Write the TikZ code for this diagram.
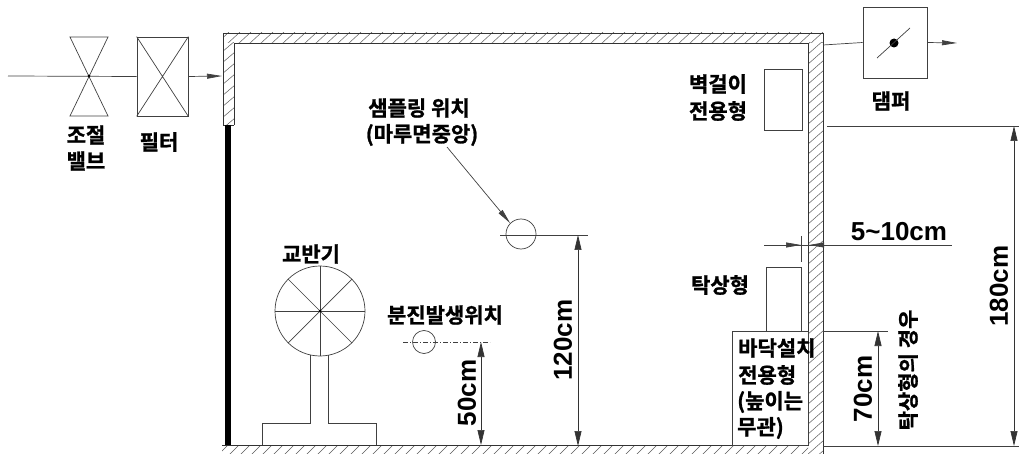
\documentclass[tikz,border=0pt]{standalone}
\usepackage{fontspec}
\setmainfont{Liberation Sans}
\newfontfamily\krfont{Noto Sans CJK KR}[BoldFont={* Bold},BoldFeatures={FakeBold=1.2}]
\usetikzlibrary{arrows.meta}
\tikzset{
  lbl/.style={inner sep=0pt,font=\krfont\bfseries\fontsize{21}{24}\selectfont,align=center},
  dimlbl/.style={inner sep=0pt,font=\bfseries\fontsize{26}{28}\selectfont},
  ln/.style={draw=black!75,line width=0.7pt},
  wall/.style={draw=black!80,line width=0.8pt},
  hatch/.style={draw=black!65,line width=0.5pt},
  dimln/.style={draw=black!80,line width=0.7pt,{Triangle[length=15pt,width=7pt]}-{Triangle[length=15pt,width=7pt]}},
  flow/.style={draw=black!75,line width=0.7pt,-{Triangle[length=15pt,width=5pt]}},
}
\begin{document}
\begin{tikzpicture}[x=1pt,y=-1pt]
\useasboundingbox (0,0) rectangle (1019,454);
% walls
\begin{scope}
\clip (223,33) rectangle (823,43);
\foreach \i in {0,11,...,620} \draw[hatch] (216+\i,44) -- (229+\i,32);
\end{scope}
\begin{scope}
\clip (223,43) rectangle (234,125);
\foreach \i in {30,41,...,130} \draw[hatch] (222,\i+11) -- (235,\i);
\end{scope}
\begin{scope}
\clip (808,43) rectangle (823,454);
\foreach \i in {30,40,...,470} \draw[hatch] (807,\i+15) -- (824,\i);
\end{scope}
\begin{scope}
\clip (222,445) rectangle (808,454);
\foreach \i in {0,11,...,600} \draw[hatch] (218+\i,455) -- (229+\i,444);
\end{scope}
\draw[wall] (223,125) -- (223,33) -- (823,33) -- (823,454);
\draw[wall] (234,125) -- (234,43) -- (808,43) -- (808,445);
\draw[wall] (223,125) -- (234,125);
\draw[wall] (222,445) -- (808,445);
\draw[line width=6pt] (228,125) -- (228,445);
% valve and filter
\coordinate (inlet) at (8,76);
\coordinate (vc) at (89,76);
\draw[ln] (70,37) -- (108,37) -- (70,116) -- (108,116) -- cycle;
\node[ln,minimum width=51pt,minimum height=79pt,inner sep=0pt] (filter) at (162.5,76.5) {};
\draw[ln] (filter.north west) -- (filter.south east) (filter.north east) -- (filter.south west);
\draw[ln] (inlet) -- (filter.west);
\fill (vc) circle (1.5);
\coordinate (wallin) at (222,76);
\draw[flow] (filter.east) -- (wallin);
\node[lbl] (t1) at (86,135) {조절};
\node[lbl] (t2) at (86,161) {밸브};
\node[lbl] (t3) at (159,142) {필터};
% damper
\node[ln,minimum width=64pt,minimum height=71pt,inner sep=0pt] (damper) at (895,42.5) {};
\coordinate (wallout) at (823,45);
\coordinate (dout) at (957,43);
\draw[ln] (wallout) -- (damper.west);
\draw[flow] (damper.east) -- (dout);
\node[circle,fill=black,minimum size=9pt,inner sep=0pt] (ddot) at (894,43) {};
\coordinate (da) at (877,58);
\coordinate (db) at (910,28);
\draw[ln] (da) -- (db);
\node[lbl] (t4) at (891,101) {댐퍼};
% units
\node[ln,minimum width=38pt,minimum height=61pt,inner sep=0pt] (wallunit) at (783,99.5) {};
\node[lbl] (t5) at (718,84) {벽걸이};
\node[lbl] (t6) at (718,111) {전용형};
\node[ln,minimum width=35pt,minimum height=64pt,inner sep=0pt] (deskunit) at (783.5,299) {};
\node[lbl] (t7) at (720,285) {탁상형};
\node[ln,minimum width=76pt,minimum height=114pt,inner sep=0pt] (floorunit) at (770,388) {};
\node[lbl,anchor=west] (t8) at (738,348) {바닥설치};
\node[lbl,anchor=west] (t9) at (738,375) {전용형};
\node[lbl,anchor=west] (t10) at (737,402) {(높이는};
\node[lbl,anchor=west] (t11) at (737,428) {무관)};
% dims right
\coordinate (h180a) at (827,126); \coordinate (h180b) at (1019,126);
\draw[ln] (h180a) -- (h180b);
\coordinate (base1) at (823,446); \coordinate (base2) at (1019,446);
\draw[ln] (base1) -- (base2);
\coordinate (d180a) at (1014,126); \coordinate (d180b) at (1014,446);
\draw[dimln] (d180a) -- (d180b);
\node[dimlbl,rotate=90] (t12) at (999,286) {180cm};
\coordinate (h70a) at (823,331); \coordinate (h70b) at (888,331);
\draw[ln] (h70a) -- (h70b);
\coordinate (d70a) at (878,331); \coordinate (d70b) at (878,446);
\draw[dimln] (d70a) -- (d70b);
\node[dimlbl,rotate=90] (t13) at (863,389) {70cm};
\node[lbl,rotate=90] (t14) at (908,370) {탁상형의 경우};
% 5-10
\coordinate (g1) at (764,245); \coordinate (g2) at (952,245);
\coordinate (g3) at (801,245); \coordinate (g4) at (809,245);
\coordinate (g5) at (828,245);
\coordinate (tick1) at (801,236); \coordinate (tick2) at (801,262);
\draw[ln] (g1) -- (g2);
\draw[ln] (tick1) -- (tick2);
\draw[flow] (g1) -- (g3);
\draw[flow] (g5) -- (g4);
\node[dimlbl] (t15) at (899,232) {5\char"7E 10cm};
% sampling
\node[ln,circle,minimum size=30pt,inner sep=0pt] (sample) at (521,234) {};
\coordinate (sl) at (500,235); \coordinate (sr) at (588,235);
\draw[ln] (sl) -- (sr);
\coordinate (lead) at (447,147);
\draw[flow] (lead) -- (sample.north west);
\node[lbl] (t16) at (419,108) {샘플링 위치};
\node[lbl] (t17) at (422,135) {(마루면중앙)};
\coordinate (d120a) at (578,235); \coordinate (d120b) at (578,446);
\draw[dimln] (d120a) -- (d120b);
\node[dimlbl,rotate=90] (t18) at (563,340) {120cm};
% dust
\node[ln,circle,minimum size=23pt,inner sep=0pt] (dust) at (424,342) {};
\coordinate (dl) at (403,342); \coordinate (dr) at (490,342);
\draw[ln,dash pattern=on 5pt off 2pt on 1pt off 2pt] (dl) -- (dr);
\node[lbl] (t19) at (445,315) {분진발생위치};
\coordinate (d50a) at (481,342); \coordinate (d50b) at (481,445);
\draw[dimln] (d50a) -- (d50b);
\node[dimlbl,rotate=90] (t20) at (467,393) {50cm};
% agitator
\node[ln,circle,minimum size=90pt,inner sep=0pt] (fan) at (320,311) {};
\foreach \a in {0,45,...,315} \draw[ln] (fan.center) -- (fan.\a);
\fill (fan.center) circle (1.5);
\draw[ln] (310,355) -- (310,423) -- (262,423) -- (262,445);
\draw[ln] (328,355) -- (328,423) -- (376,423) -- (376,445);
\node[lbl] (t21) at (311,254) {교반기};
\end{tikzpicture}
\end{document}
